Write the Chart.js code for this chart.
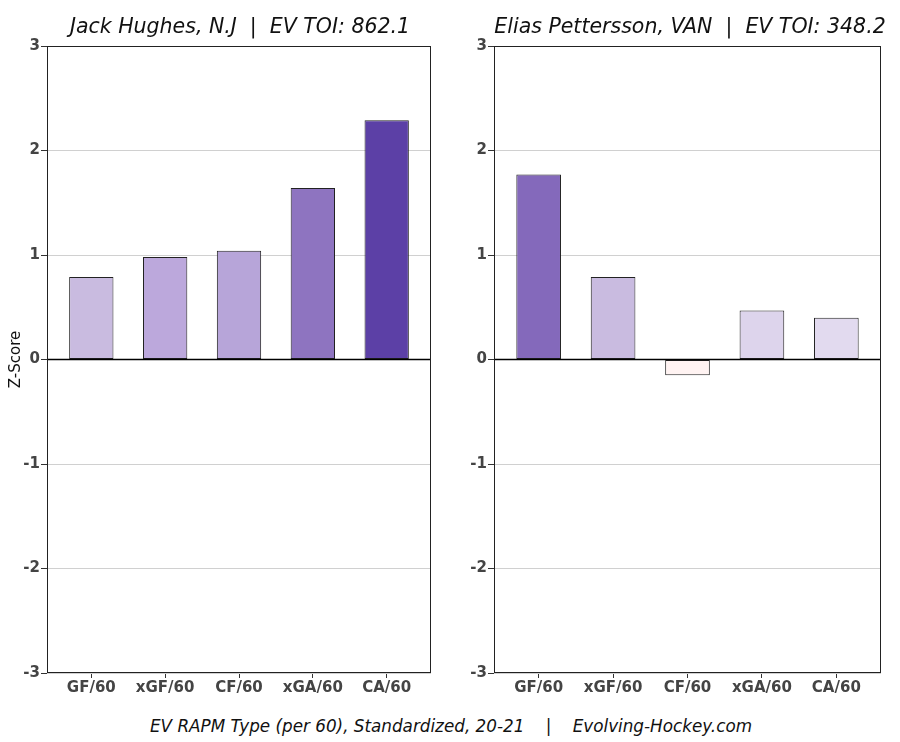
<!DOCTYPE html>
<html>
<head>
<meta charset="utf-8">
<script src="https://cdn.jsdelivr.net/npm/chart.js@4"></script>
<style>
  html, body { margin: 0; padding: 0; background: #fff; }
  body { width: 900px; height: 742px; position: relative; overflow: hidden; font-family: "DejaVu Sans", sans-serif; }
  .wrap { position: absolute; top: 0; height: 701px; }
  .ttl { position: absolute; top: 14px; font-style: italic; font-size: 20.5px; color: #111; white-space: pre; text-align: center; }
  #foot { position: absolute; top: 716px; left: 0; width: 902px; text-align: center; font-style: italic; font-size: 16.8px; color: #111; white-space: pre; }
</style>
</head>
<body>
<div class="wrap" style="left:0;width:445px;"><canvas id="c1"></canvas></div>
<div class="wrap" style="left:450px;width:450px;"><canvas id="c2"></canvas></div>
<div class="ttl" id="t1" style="left:40px;width:400px;"></div>
<div class="ttl" id="t2" style="left:490px;width:400px;"></div>
<div id="foot"></div>
<script>
const categories = ["GF/60", "xGF/60", "CF/60", "xGA/60", "CA/60"];
const hughesValues = [0.79, 0.98, 1.04, 1.64, 2.29];
const petterssonValues = [1.77, 0.79, -0.15, 0.47, 0.40];
const hughesColors = ["#c9bbe0", "#bca8dc", "#b7a5d9", "#8e74c0", "#5c40a6"];
const petterssonColors = ["#8469bb", "#c9bbe0", "#fff3f2", "#ddd4ec", "#e2daef"];
const yTicks = [-3, -2, -1, 0, 1, 2, 3];
const titles = ["Jack Hughes, N.J  |  EV TOI: 862.1", "Elias Pettersson, VAN  |  EV TOI: 348.2"];
const footer = "EV RAPM Type (per 60), Standardized, 20-21    |    Evolving-Hockey.com";

document.getElementById('t1').textContent = titles[0];
document.getElementById('t2').textContent = titles[1];
document.getElementById('foot').textContent = footer;

const framePlugin = {
  id: 'frame',
  afterDatasetsDraw(chart) {
    const a = chart.chartArea, ctx = chart.ctx;
    const y0 = chart.scales.y.getPixelForValue(0);
    ctx.save();
    ctx.strokeStyle = '#000';
    ctx.lineWidth = 1.3;
    ctx.beginPath();
    ctx.moveTo(a.left, y0); ctx.lineTo(a.right, y0);
    ctx.stroke();
    ctx.strokeStyle = '#222';
    ctx.lineWidth = 1;
    ctx.strokeRect(a.left + 0.5, a.top + 0.5, a.right - a.left - 1, a.bottom - a.top - 1);
    ctx.restore();
  }
};

function makeChart(id, values, colors, yWidth, leftPad, rightPad, showYTitle) {
  const tickFont = { family: 'DejaVu Sans', size: 15, weight: 'bold' };
  return new Chart(document.getElementById(id), {
    type: 'bar',
    data: {
      datasets: [{
        data: values.map((v, i) => ({ x: i, y: v })),
        backgroundColor: colors,
        borderColor: '#222',
        borderWidth: 1,
        borderSkipped: false,
        categoryPercentage: 1,
        barPercentage: 0.6
      }]
    },
    options: {
      responsive: true,
      maintainAspectRatio: false,
      animation: false,
      layout: { padding: { top: 46, right: rightPad, bottom: 0, left: leftPad } },
      plugins: { legend: { display: false }, tooltip: { enabled: false }, title: { display: false } },
      scales: {
        x: {
          type: 'linear',
          offset: false,
          min: -0.6, max: 4.6,
          afterBuildTicks: (axis) => { axis.ticks = categories.map((_, i) => ({ value: i })); },
          afterFit: (s) => { s.height = 28; },
          ticks: { callback: (v) => categories[v], font: tickFont, color: '#444', padding: 1, maxRotation: 0, autoSkip: false },
          grid: { drawOnChartArea: false, drawTicks: true, tickLength: 5, color: '#333', offset: false },
          border: { display: false }
        },
        y: {
          min: -3, max: 3,
          afterBuildTicks: (axis) => { axis.ticks = yTicks.map(v => ({ value: v })); },
          afterFit: (s) => { s.width = yWidth; },
          ticks: { font: tickFont, color: '#444', padding: 1 },
          grid: { color: (c) => c.tick && c.tick.value === 0 ? 'rgba(0,0,0,0)' : '#d0d0d0', tickColor: '#333', tickLength: 6, lineWidth: 1 },
          border: { display: false },
          title: { display: showYTitle, text: 'Z-Score', font: { family: 'DejaVu Sans', size: 15 }, color: '#111', padding: { top: 0, bottom: 0 } }
        }
      }
    },
    plugins: [framePlugin]
  });
}

makeChart('c1', hughesValues, hughesColors, 40, 7, 14, true);
makeChart('c2', petterssonValues, petterssonColors, 44, 0, 19, false);
</script>
</body>
</html>
